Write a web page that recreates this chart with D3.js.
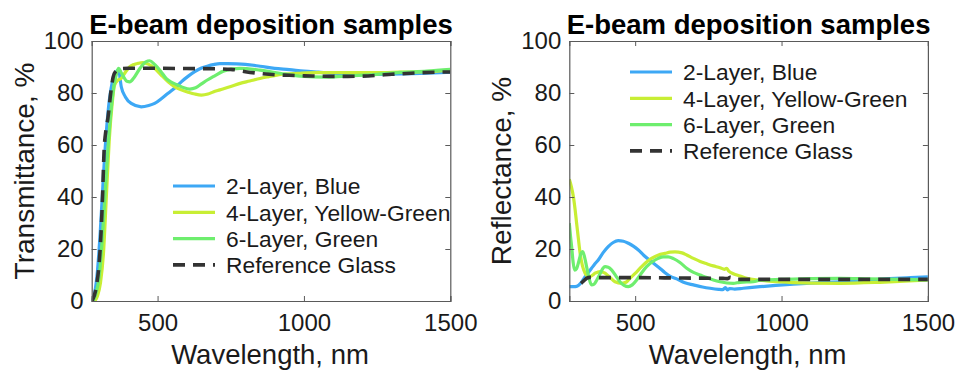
<!DOCTYPE html>
<html><head><meta charset="utf-8">
<script src="https://cdn.jsdelivr.net/npm/d3@7"></script>
<style>
body{margin:0;background:#fff;}
svg text{font-family:"Liberation Sans",Arial,sans-serif;}
</style></head>
<body><svg id="c" width="958" height="370"></svg>
<script>
// ---------- DATA ----------
const titleText = "E-beam deposition samples";
const xLabel = "Wavelength, nm";
const yLabels = ["Transmittance, %", "Reflectance, %"];
const seriesNames = ["2-Layer, Blue", "4-Layer, Yellow-Green", "6-Layer, Green", "Reference Glass"];
const seriesColors = ["#3DA8F5", "#C8EE34", "#6EEE6E", "#333333"];
const xTicks = [500, 1000, 1500];
const yTicks = [0, 20, 40, 60, 80, 100];

// Transmittance (left)
const tBlueX = [276,285,295,305,315,325,335,345,355,367,376,390,410,444,470,490,515,536,560,581,605,627,650,672,690,713,740,770,800,850,900,950,1000,1050,1100,1157,1250,1330,1420,1500];
const tBlueY = [0,3,12,28,48,65,77,84,87.5,88.8,82.4,78.5,76,74.7,75.2,76,78,79.9,82,84.3,86.5,88.2,89.6,90.4,90.9,91.3,91.3,91.2,91,90.3,89.5,89,88.4,88,87.6,87.3,87.2,87.3,87.6,88];
const tYellowX = [285,295,305,315,325,335,345,353,365,376,390,405,420,433,450,470,490,510,536,560,581,605,627,650,672,690,713,750,782,815,850,880,907,950,987,1050,1150,1250,1330,1420,1500];
const tYellowY = [0,2,7,18,40,62,76,83,85,85.6,88,90.1,91,91.4,91.7,91,89.5,87.2,84.3,82.3,81.2,80.3,79.6,79.2,79.6,80.4,81.2,82.5,83.7,84.6,85.6,86.3,86.9,87.4,87.6,87.8,87.8,87.8,88,88.2,88.8];
const tGreenX = [280,290,300,310,320,330,340,350,360,367,375,385,395,405,420,440,460,473,490,510,530,550,570,590,610,630,650,670,690,730,782,850,918,987,1078,1157,1250,1328,1420,1500];
const tGreenY = [0,3,9,22,40,58,72,82,87.5,89.5,88,86,84.5,84.3,86,89.5,92,92.4,91,88.5,85.5,84,83,82,81.5,82,83.5,85,86.3,88.6,89.5,88.8,87.6,86.5,86.1,86.6,87.2,87.9,88.4,89.1];
const tGlassX = [276,290,300,305,312,317,324,330,340,348,358,365,375,400,500,600,700,750,800,850,900,950,1000,1050,1100,1150,1200,1250,1300,1350,1400,1450,1500];
const tGlassY = [0,5,14,22,40,57,66,70,80,86,88.5,89,89.4,89.5,89.5,89.4,89.3,89.1,88.2,87.5,87,86.8,86.6,86.5,86.4,86.4,86.5,86.8,87.2,87.5,87.8,88,88.1];

// Reflectance (right)
const rBlueX = [275,290,300,315,329,340,351,362,374,390,408,425,442,460,477,495,511,530,556,580,602,620,642,670,699,730,756,785,800,808,815,823,840,869,926,980,1040,1100,1200,1300,1370,1440,1500];
const rBlueY = [5.5,5.5,5.6,7,9.4,11,12.6,14.2,15.8,18.5,20.9,22.5,23.2,23,22.2,21,19.6,17.5,15.1,13,10.9,9.5,8.5,7,6.2,5.4,4.9,4.5,4.4,5.2,4.3,4.8,4.6,4.9,5.5,6,6.5,6.9,7.4,8.1,8.6,9,9.3];
const rYellowX = [275,282,289,295,300,306,312,320,329,337,346,355,363,372,380,390,397,410,431,454,470,482,500,517,535,556,580,602,619,636,660,676,699,722,745,767,790,805,812,820,835,858,881,926,949,1000,1040,1100,1200,1336,1420,1500];
const rYellowY = [46.8,44,40.1,35,29.9,24,18.3,13.5,10.7,9.6,9.4,10,10.7,11.1,11.3,11.1,10.7,9.5,7.4,6.8,7.3,8.7,10.6,12.6,14.6,16.4,17.7,18.3,18.8,18.9,18.5,17.7,16.4,15.2,14.3,13.5,12.8,12.2,12.6,11.5,10.5,9.6,8.7,8,7.7,7.3,7.1,6.9,6.8,7.2,7.6,8.1];
const rGreenX = [275,279,283,288,293,300,307,314,321,328,334,342,351,360,369,380,390,397,408,420,435,448,462,477,490,505,520,539,560,579,596,613,631,653,676,699,722,745,767,790,835,858,904,926,1000,1100,1200,1300,1400,1500];
const rGreenY = [29.9,25,20.9,15,11.9,12.5,15,18,19,16.5,13.2,9,6.2,6.5,8.1,10.5,12.6,13.2,13,11.9,9.5,7.4,6,5.5,6.2,8.1,10.5,13.2,15.2,16.4,17,17,16.3,14.8,12.6,11,10,9,8.1,7.4,6.8,7.2,7.4,8,8.3,8.6,8.7,8.5,8.3,8.1];
const rGlassX = [315,325,335,345,360,400,500,600,700,800,815,825,840,860,900,1000,1100,1200,1300,1400,1500];
const rGlassY = [6.8,7.8,8.8,9.1,9,9,9,8.9,8.8,8.7,8.6,9.1,8.3,8.3,8.3,8.3,8.3,8.3,8.3,8.3,8.3];

const panels = [
  {left: 91.7, yLabel: yLabels[0], xs:[tBlueX,tYellowX,tGreenX,tGlassX], ys:[tBlueY,tYellowY,tGreenY,tGlassY],
   legend:{lineX0:173, lineX1:215, textX:226, y0:186}},
  {left: 569.3, yLabel: yLabels[1], xs:[rBlueX,rYellowX,rGreenX,rGlassX], ys:[rBlueY,rYellowY,rGreenY,rGlassY],
   legend:{lineX0:630, lineX1:672, textX:683, y0:72}}
];

// ---------- DRAW ----------
const svg = d3.select("#c");
const plotW = 358.6, plotTop = 41, plotBottom = 301;
const axisCol = "#5a5a5a", textCol = "#1a1a1a";

panels.forEach(p => {
  const x = d3.scaleLinear().domain([275, 1500]).range([p.left, p.left + plotW]);
  const y = d3.scaleLinear().domain([0, 100]).range([plotBottom, plotTop]);
  const g = svg.append("g");

  const cid = "clip" + Math.round(p.left);
  svg.append("clipPath").attr("id", cid).append("rect")
    .attr("x", p.left).attr("y", plotTop).attr("width", plotW).attr("height", plotBottom - plotTop);

  const line = d3.line().x(d => x(d[0])).y(d => y(d[1])).curve(d3.curveMonotoneX);
  p.xs.forEach((xs, i) => {
    const pts = xs.map((v, k) => [v, p.ys[i][k]]);
    g.append("path").attr("d", line(pts)).attr("fill", "none")
      .attr("clip-path", `url(#${cid})`)
      .attr("stroke", seriesColors[i])
      .attr("stroke-width", i === 3 ? 3.6 : 3.2)
      .attr("stroke-dasharray", i === 3 ? "12,8" : null)
      .attr("stroke-linejoin", "round");
  });

  const ax = g.append("g").attr("transform", `translate(0,${plotBottom})`)
    .call(d3.axisBottom(x).tickValues(xTicks).tickSize(-5).tickPadding(13).tickFormat(d3.format("d")));
  const axT = g.append("g").attr("transform", `translate(0,${plotTop})`)
    .call(d3.axisTop(x).tickValues(xTicks).tickSize(-5).tickFormat(""));
  const ay = g.append("g").attr("transform", `translate(${p.left},0)`)
    .call(d3.axisLeft(y).tickValues(yTicks).tickSize(-5).tickPadding(8));
  const ayR = g.append("g").attr("transform", `translate(${p.left + plotW},0)`)
    .call(d3.axisRight(y).tickValues(yTicks).tickSize(-5).tickFormat(""));
  [ax, axT, ay, ayR].forEach(a => {
    a.select(".domain").attr("stroke", axisCol).attr("stroke-width", 1.2);
    a.selectAll(".tick line").attr("stroke", axisCol).attr("stroke-width", 1);
    a.selectAll(".tick text").attr("fill", textCol).style("font-size", "24px")
      .style("font-family", "'Liberation Sans', Arial, sans-serif");
  });

  g.append("text").attr("x", p.left + plotW / 2).attr("y", 34).attr("text-anchor", "middle")
    .style("font-size", "27.5px").style("font-weight", "bold").attr("fill", "#000").text(titleText);
  g.append("text").attr("x", p.left + plotW / 2 - 1).attr("y", 364).attr("text-anchor", "middle")
    .style("font-size", "27.5px").attr("fill", textCol).text(xLabel);
  g.append("text").attr("transform", `translate(${p.left - 58},${(plotTop + plotBottom) / 2}) rotate(-90)`)
    .attr("text-anchor", "middle").style("font-size", "28px").attr("fill", textCol).text(p.yLabel);

  seriesNames.forEach((nm, i) => {
    const ly = p.legend.y0 + i * 26.3;
    g.append("line").attr("x1", p.legend.lineX0).attr("x2", p.legend.lineX1)
      .attr("y1", ly).attr("y2", ly).attr("stroke", seriesColors[i])
      .attr("stroke-width", i === 3 ? 3.6 : 3.2).attr("stroke-dasharray", i === 3 ? "12,8" : null);
    g.append("text").attr("x", p.legend.textX).attr("y", ly).attr("dy", "0.36em")
      .style("font-size", "22.8px").attr("fill", textCol).text(nm);
  });
});
</script></body></html>
